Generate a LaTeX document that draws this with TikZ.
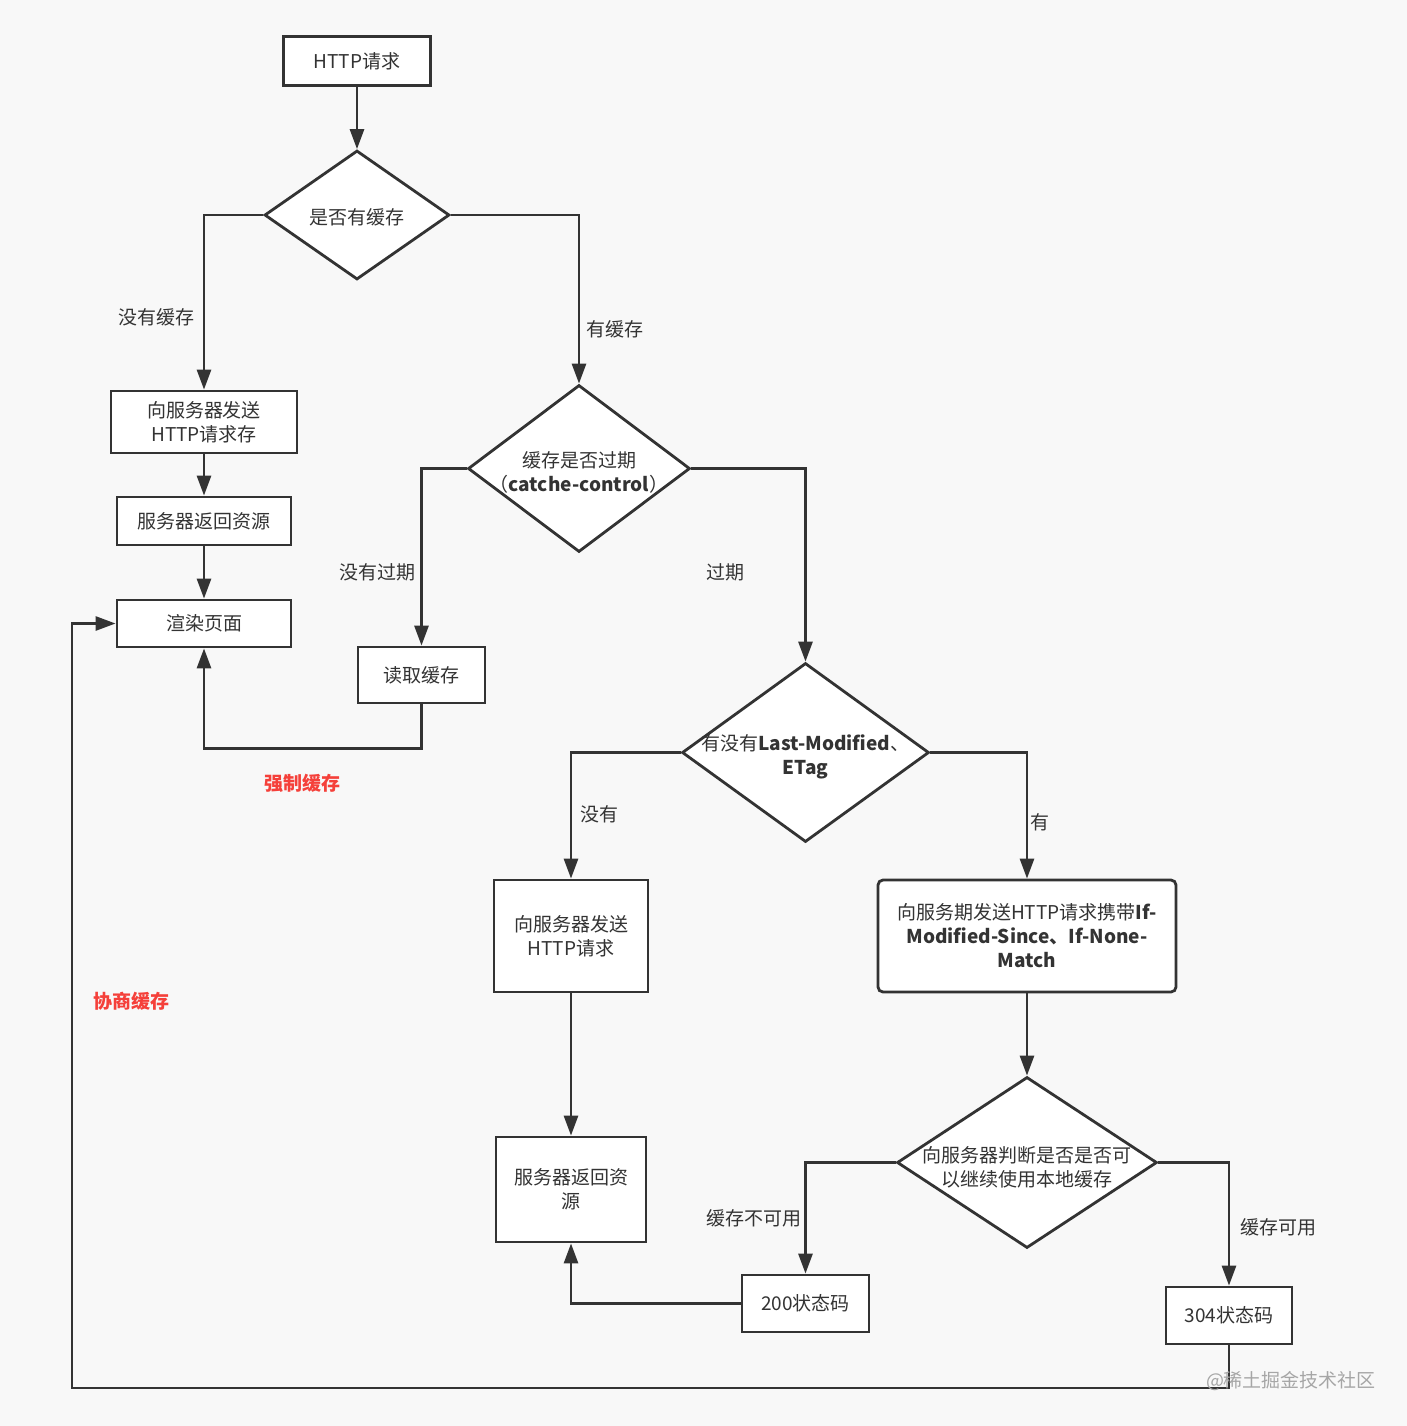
\documentclass[tikz,border=0pt]{standalone}
\usepackage{fontspec}
\setmainfont{Noto Sans CJK SC}
\usetikzlibrary{arrows.meta,calc,positioning,shapes.geometric}
\definecolor{ink}{HTML}{333333}
\definecolor{hot}{HTML}{F5403A}
\definecolor{paper}{HTML}{F8F8F8}

\begin{document}
\begin{tikzpicture}[
  x=0.5pt,y=-0.5pt,
  font=\fontsize{9.5}{12}\selectfont,
  box/.style={draw=ink,line width=1.4pt,fill=white,align=center,text=ink,inner sep=0pt},
  dia/.style={draw=ink,line width=1.4pt,fill=white,diamond,inner sep=0pt},
  arr/.style={-{Triangle[length=10pt,width=7pt]},draw=ink,line width=1.4pt},
  lbl/.style={text=ink,align=center},
  tag/.style={text=hot,font=\fontsize{9.5}{12}\selectfont\bfseries}
]
  \fill[paper] (0,0) rectangle (1407,1426);
  \useasboundingbox (0,0) rectangle (1407,1426);

  \node[box,minimum width=73.5pt,minimum height=24.5pt] (req) at (357,61) {HTTP请求};
  \node[dia,minimum width=92.5pt,minimum height=64.5pt,label={[lbl,yshift=-1pt]center:是否有缓存}] (has) at (357,215) {};

  \node[box,minimum width=93pt,minimum height=31pt] (send1) at (204,422) {向服务器发送\\HTTP请求存};
  \node[box,minimum width=87pt,minimum height=24pt] (back1) at (204,521) {服务器返回资源};
  \node[box,minimum width=87pt,minimum height=23.5pt] (render) at (204,623.5) {渲染页面};

  \node[dia,minimum width=111pt,minimum height=83.5pt,
    label={[lbl,yshift=-2pt]center:缓存是否过期\\（\textbf{catche-control}）}] (expire) at (579,468.5) {};
  \node[box,minimum width=63.5pt,minimum height=28pt] (readc) at (421.5,675) {读取缓存};

  \node[dia,minimum width=123.5pt,minimum height=89.5pt,
    label={[lbl,yshift=-2pt]center:有没有\textbf{Last-Modified}、\\\textbf{ETag}}] (etag) at (805.5,752.5) {};
  \node[box,minimum width=77pt,minimum height=56pt] (send2) at (571,936) {向服务器发送\\HTTP请求};
  \node[box,minimum width=75pt,minimum height=52.5pt] (back2) at (571,1189.5) {服务器返回资\\源};

  \node[box,rounded corners=2.5pt,minimum width=149pt,minimum height=56pt] (cond) at (1027,936)
    {向服务期发送HTTP请求携带\textbf{If-}\\\textbf{Modified-Since、If-None-}\\\textbf{Match}};
  \node[dia,minimum width=130pt,minimum height=85.5pt,
    label={[lbl,yshift=-2.5pt]center:向服务器判断是否是否可\\以继续使用本地缓存}] (check) at (1027,1162.5) {};
  \node[box,minimum width=63.5pt,minimum height=28.5pt] (s200) at (805.5,1303.5) {200状态码};
  \node[box,minimum width=63pt,minimum height=28.5pt] (s304) at (1229,1315.5) {304状态码};

  \coordinate (loop) at (72,1388);

  \draw[arr] (req) -- (has);
  \draw[arr] (has.west) -| (send1.north);
  \draw[arr] (send1) -- (back1);
  \draw[arr] (back1) -- (render);
  \draw[arr] (has.east) -| (expire.north);
  \draw[arr] (expire.west) -| (readc.north);
  \draw[arr] (readc.south) -- ++(0,44) -| (render.south);
  \draw[arr] (expire.east) -| (etag.north);
  \draw[arr] (etag.west) -| (send2.north);
  \draw[arr] (send2) -- (back2);
  \draw[arr] (etag.east) -| (cond.north);
  \draw[arr] (cond) -- (check);
  \draw[arr] (check.west) -| (s200.north);
  \draw[arr] (s200.west) -| (back2.south);
  \draw[arr] (check.east) -| (s304.north);
  \draw[arr] (s304.south) |- (loop) |- (render.west);

  \node[lbl] (l1) at (157,317) {没有缓存};
  \node[lbl] (l2) at (615,329) {有缓存};
  \node[lbl] (l3) at (377,572) {没有过期};
  \node[lbl] (l4) at (725,572) {过期};
  \node[lbl] (l5) at (599,814) {没有};
  \node[lbl] (l6) at (1040,822) {有};
  \node[lbl] (l7) at (754,1218) {缓存不可用};
  \node[lbl] (l8) at (1278,1227) {缓存可用};
  \node[tag] (t1) at (302,783) {强制缓存};
  \node[tag] (t2) at (131,1001) {协商缓存};
  \node[text=black!35] (mark) at (1291,1381) {@稀土掘金技术社区};
\end{tikzpicture}
\end{document}
